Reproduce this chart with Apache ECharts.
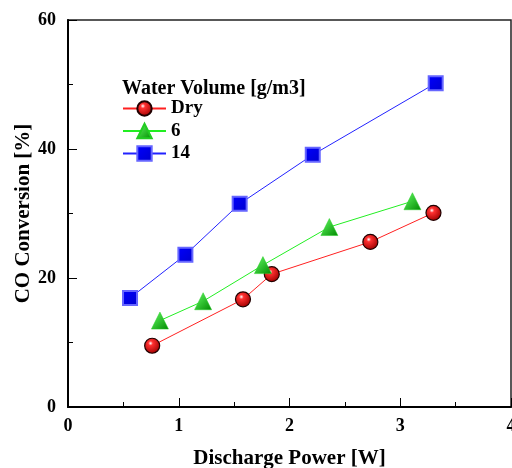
<!DOCTYPE html>
<html><head><meta charset="utf-8">
<script src="https://cdn.jsdelivr.net/npm/echarts@6/dist/echarts.min.js"></script>
<style>html,body{margin:0;padding:0;background:#fff}#c{width:512px;height:468px}</style>
</head><body><div id="c"></div>
<script>
var xTicks = [0, 1, 2, 3, 4];
var yTicks = [0, 20, 40, 60];
var dryX = [0.76, 1.58, 1.84, 2.73, 3.30];
var dryY = [9.5, 16.7, 20.6, 25.6, 30.1];
var w6X = [0.83, 1.22, 1.76, 2.36, 3.11];
var w6Y = [13.4, 16.4, 22.0, 27.9, 31.9];
var w14X = [0.56, 1.06, 1.55, 2.21, 3.32];
var w14Y = [16.9, 23.6, 31.5, 39.1, 50.2];
var seriesNames = ['Dry', '6', '14'];
var legendTitle = 'Water Volume [g/m3]';

function pairs(xs, ys){ return xs.map(function(x,i){return [x, ys[i]];}); }
var font = 'Liberation Serif';
var redFill = new echarts.graphic.RadialGradient(0.4, 0.35, 0.65, [{offset:0,color:'#ffffff'},{offset:0.22,color:'#ff3030'},{offset:1,color:'#a00000'}]);
var greenFill = new echarts.graphic.LinearGradient(0, 0, 1, 1, [{offset:0,color:'#66ff66'},{offset:1,color:'#008800'}]);
var blueFill = new echarts.graphic.LinearGradient(0, 0, 1, 1, [{offset:0,color:'#0000ff'},{offset:1,color:'#0000cc'}]);

var chart = echarts.init(document.getElementById('c'));
chart.setOption({
  animation: false,
  grid: {left: 68, top: 20, right: 1, bottom: 61, containLabel: false, outerBoundsMode: 'none',
         show: true, borderColor: '#222', borderWidth: 1.5, backgroundColor: 'transparent'},
  title: {text: legendTitle, left: 122, top: 79, padding: 0,
          textStyle: {fontFamily: font, fontWeight: 'bold', fontSize: 20, color: '#000'}},
  legend: {
    orient: 'vertical', left: 122, top: 99, padding: 0, itemWidth: 43, itemHeight: 18, itemGap: 3.5,
    data: seriesNames,
    textStyle: {fontFamily: font, fontWeight: 'bold', fontSize: 19, color: '#000'}
  },
  xAxis: {
    type: 'value', min: xTicks[0], max: xTicks[xTicks.length-1], interval: 1,
    name: 'Discharge Power [W]', nameLocation: 'middle', nameGap: 41, nameMoveOverlap: false,
    nameTextStyle: {fontFamily: font, fontWeight: 'bold', fontSize: 21, color: '#000'},
    axisLine: {lineStyle: {color: '#000', width: 2}},
    axisTick: {inside: true, length: 9, lineStyle: {color: '#000', width: 1}},
    minorTick: {show: true, splitNumber: 2, length: 5, lineStyle: {color: '#000', width: 1}},
    splitLine: {show: false},
    axisLabel: {fontFamily: font, fontWeight: 'bold', fontSize: 18, color: '#000', margin: 10}
  },
  yAxis: {
    type: 'value', min: yTicks[0], max: yTicks[yTicks.length-1], interval: 20,
    name: 'CO Conversion [%]', nameLocation: 'middle', nameGap: 34, nameMoveOverlap: false,
    nameTextStyle: {fontFamily: font, fontWeight: 'bold', fontSize: 21, color: '#000'},
    axisLine: {lineStyle: {color: '#000', width: 2}},
    axisTick: {inside: true, length: 9, lineStyle: {color: '#000', width: 1}},
    minorTick: {show: true, splitNumber: 2, length: 5, lineStyle: {color: '#000', width: 1}},
    splitLine: {show: false},
    axisLabel: {fontFamily: font, fontWeight: 'bold', fontSize: 18, color: '#000', margin: 12}
  },
  series: [
    {name: seriesNames[0], type: 'line', data: pairs(dryX, dryY), symbol: 'circle', symbolSize: 15,
     lineStyle: {color: '#ff2020', width: 1}, itemStyle: {color: redFill, borderColor: '#200000', borderWidth: 1.2}},
    {name: seriesNames[1], type: 'line', data: pairs(w6X, w6Y), symbol: 'triangle', symbolSize: 17,
     lineStyle: {color: '#22ee22', width: 1}, itemStyle: {color: greenFill, borderColor: '#22cc22', borderWidth: 0.5}},
    {name: seriesNames[2], type: 'line', data: pairs(w14X, w14Y), symbol: 'rect', symbolSize: 14,
     lineStyle: {color: '#2222ff', width: 1}, itemStyle: {color: blueFill, borderColor: '#6666ff', borderWidth: 2}}
  ]
});
</script></body></html>
